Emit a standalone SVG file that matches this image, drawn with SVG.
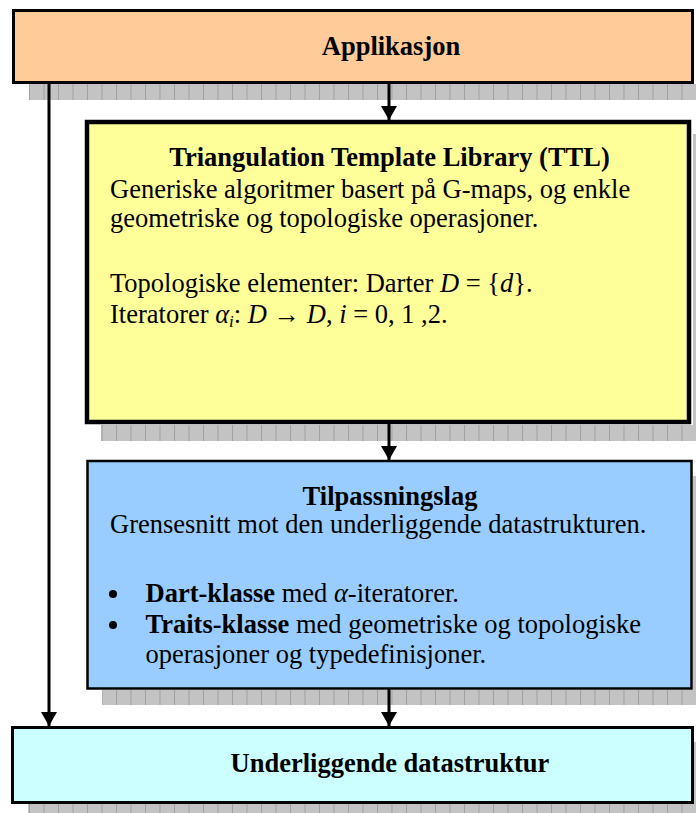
<svg xmlns="http://www.w3.org/2000/svg" width="696" height="813" viewBox="0 0 696 813">
  <defs>
    <pattern id="grid" patternUnits="userSpaceOnUse" width="14.5" height="16" x="0" y="0">
      <rect width="14.5" height="16" fill="#c3c3c3"/>
      <line x1="0.5" y1="0" x2="0.5" y2="16" stroke="#9f9f9f" stroke-width="1"/>
    </pattern>
    <marker id="arrow" viewBox="0 0 14 16" refX="14" refY="8" markerWidth="14" markerHeight="16" markerUnits="userSpaceOnUse" orient="auto">
      <path d="M0,0 L14,8 L0,16 Z" fill="#000"/>
    </marker>
  </defs>
  <style>
    .shadow { fill: url(#grid); }
    .box { stroke: #000; stroke-width: 3; }
    .t { font-family: "Liberation Serif", "Times New Roman", serif; font-size: 26.5px; fill: #000; }
    .h { font-weight: bold; font-size: 26.5px; text-anchor: middle; }
    .b { font-weight: bold; }
    .i { font-style: italic; }
    .conn { stroke: #000; stroke-width: 3; fill: none; marker-end: url(#arrow); }
  </style>

  <rect width="696" height="813" fill="#fff"/>

  <!-- drop shadows -->
  <rect class="shadow" x="29" y="84" width="680" height="16"/>
  <rect class="shadow" x="101" y="425" width="600" height="16"/>
  <rect class="shadow" x="102" y="690" width="600" height="15"/>
  <rect class="shadow" x="28" y="804" width="680" height="12"/>
  <rect class="shadow" x="693" y="134" width="6" height="300"/>
  <rect class="shadow" x="693" y="476" width="6" height="220"/>
  <rect class="shadow" x="694" y="742" width="6" height="70"/>

  <g id="connectors">
    <line class="conn" x1="389" y1="83" x2="389" y2="120"/>
    <line class="conn" x1="389" y1="424" x2="389" y2="460"/>
    <line class="conn" x1="389" y1="689" x2="389" y2="726"/>
    <line class="conn" x1="49" y1="83" x2="49" y2="726"/>
  </g>

  <g id="applikasjon">
    <rect class="box" x="13.5" y="10.5" width="679" height="72" fill="#ffcc99"/>
    <text class="t h" x="391" y="55">Applikasjon</text>
  </g>

  <g id="ttl">
    <rect x="87" y="122" width="602" height="300" fill="#ffff99" stroke="#000" stroke-width="4.5"/>
    <text class="t h" x="389.5" y="166">Triangulation Template Library (TTL)</text>
    <text class="t" x="110" y="198">Generiske algoritmer basert på G-maps, og enkle</text>
    <text class="t" x="110" y="227">geometriske og topologiske operasjoner.</text>
    <text class="t" x="110" y="292">Topologiske elementer: Darter <tspan class="i">D</tspan> = {<tspan class="i">d</tspan>}.</text>
    <text class="t" x="110" y="323">Iteratorer <tspan class="i">α</tspan><tspan class="i" font-size="17" dy="4">i</tspan><tspan dy="-4">: </tspan><tspan class="i">D</tspan> → <tspan class="i">D</tspan>, <tspan class="i">i</tspan> = 0, 1 ,2.</text>
  </g>

  <g id="tilpassningslag">
    <rect x="87.5" y="461" width="604" height="227.5" fill="#99ccff" stroke="#000" stroke-width="2.5"/>
    <text class="t h" x="390" y="505">Tilpassningslag</text>
    <text class="t" x="110" y="533">Grensesnitt mot den underliggende datastrukturen.</text>
    <circle cx="113" cy="594" r="4" fill="#000"/>
    <circle cx="113" cy="625" r="4" fill="#000"/>
    <text class="t" x="145.5" y="602"><tspan class="b">Dart-klasse</tspan> med <tspan class="i">α</tspan>-iteratorer.</text>
    <text class="t" x="145.5" y="633"><tspan class="b">Traits-klasse</tspan> med geometriske og topologiske</text>
    <text class="t" x="145.5" y="663">operasjoner og typedefinisjoner.</text>
  </g>

  <g id="datastruktur">
    <rect class="box" x="12.5" y="727.5" width="680" height="75" fill="#ccffff"/>
    <text class="t h" x="390" y="772">Underliggende datastruktur</text>
  </g>
</svg>
